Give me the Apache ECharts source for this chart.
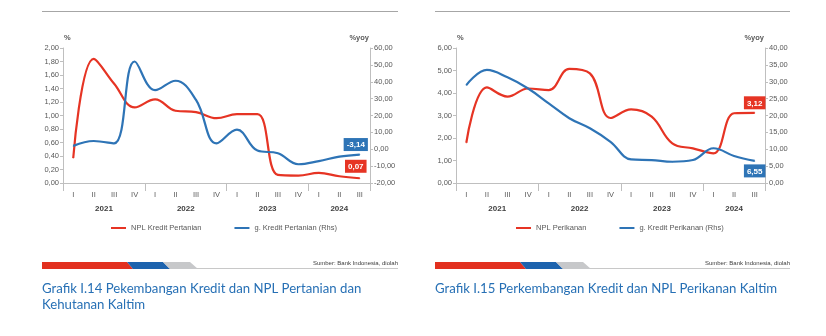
<!DOCTYPE html>
<html><head><meta charset="utf-8">
<script src="https://cdn.jsdelivr.net/npm/echarts@6/dist/echarts.min.js"></script>
<style>html,body{margin:0;padding:0;background:#fff}#c{width:826px;height:336px}</style>
</head><body><div id="c"></div>
<script>
// ---- data ----
const quarters = ['I','II','III','IV','I','II','III','IV','I','II','III','IV','I','II','III'];
const years = ['2021','2022','2023','2024'];
const quartersPerYear = [4, 4, 4, 3];

const nplPertanian    = [0.37, 1.84, 1.47, 1.12, 1.24, 1.07, 1.05, 0.96, 1.02, 1.02, 0.12, 0.11, 0.15, 0.10, 0.07];
const kreditPertanian = [2.0, 4.9, 3.5, 52.0, 35.0, 40.6, 29.2, 3.5, 11.6, -0.8, -2.4, -8.9, -7.0, -4.4, -3.14];
const nplPerikanan    = [1.79, 4.25, 3.84, 4.20, 4.13, 5.07, 4.87, 2.89, 3.27, 2.95, 1.76, 1.54, 1.32, 3.10, 3.12];
const kreditPerikanan = [29.0, 33.5, 31.3, 28.0, 23.6, 19.2, 16.2, 12.2, 7.0, 6.8, 6.3, 6.8, 10.3, 8.0, 6.55];

const leftTicksA  = {min: 0, max: 2, interval: 0.2};
const rightTicksA = {min: -20, max: 60, interval: 10};
const leftTicksB  = {min: 0, max: 6, interval: 1};
const rightTicksB = {min: 0, max: 40, interval: 5};

// ---- helpers ----
const RED = '#e63424', BLUE = '#2e74b6', AX = '#bfbfbf', TXT = '#595959';
const FONT = 'Liberation Sans';
const fmt = v => Number(v).toFixed(2).replace('.', ',');

const yearCentreMap = {};
(function(){ let s = 0; quartersPerYear.forEach((n, i) => { yearCentreMap[s + n / 2] = years[i]; s += n; }); })();
const nQ = quarters.length;

function xAxes(g) {
  return [
    {type: 'category', gridIndex: g, position: 'bottom', data: quarters, boundaryGap: true,
     axisLine: {onZero: false, lineStyle: {color: AX}}, axisTick: {length: 3, lineStyle: {color: AX}},
     axisLabel: {fontSize: 7.5, color: TXT, margin: 8, interval: 0, fontFamily: FONT}},
    {type: 'value', gridIndex: g, position: 'bottom', min: 0, max: nQ, interval: quartersPerYear[0],
     axisLine: {show: false, onZero: false}, axisTick: {show: true, length: 8, lineStyle: {color: AX}},
     axisLabel: {show: false}, splitLine: {show: false}},
    {type: 'value', gridIndex: g, position: 'bottom', min: 0, max: nQ, interval: 0.5,
     axisLine: {show: false, onZero: false}, axisTick: {show: false}, splitLine: {show: false},
     axisLabel: {margin: 22, fontSize: 8, fontWeight: 'bold', color: '#404040', fontFamily: FONT,
                 formatter: v => yearCentreMap[v] || ''}}
  ];
}
function yAxis(g, ticks, pos) {
  return {type: 'value', gridIndex: g, position: pos, min: ticks.min, max: ticks.max, interval: ticks.interval,
    axisLine: {show: true, onZero: false, lineStyle: {color: AX}}, axisTick: {show: true, length: 3, lineStyle: {color: AX}},
    axisLabel: {fontSize: 7.5, color: TXT, margin: 4, formatter: fmt, fontFamily: FONT},
    splitLine: {show: false}};
}
function lineSeries(name, arr, color, xi, yi, labelPos, offset) {
  return {name: name, type: 'line', xAxisIndex: xi, yAxisIndex: yi, smooth: 0.4,
    symbol: 'circle', symbolSize: 1, showSymbol: true, showAllSymbol: true,
    lineStyle: {width: 2.2, color: color}, itemStyle: {color: color},
    data: arr.map((v, i) => i === arr.length - 1 ? {value: v, label: {show: true, position: labelPos, distance: 3, offset: offset,
      backgroundColor: color, color: '#fff', fontSize: 8, fontWeight: 'bold', fontFamily: FONT, padding: [3, 3, 2, 3],
      formatter: p => fmt(p.value)}} : v)};
}
function deco(x0, x1, axL, axR) {
  const y0 = 262, y1 = 269;
  const nameStyle = {fontSize: 7.5, fill: TXT, fontWeight: 'bold', fontFamily: FONT, verticalAlign: 'middle'};
  return [
    {type: 'line', shape: {x1: x0, y1: 11.5, x2: x1, y2: 11.5}, style: {stroke: '#a6a6a6', lineWidth: 1}},
    {type: 'line', shape: {x1: x0, y1: y1 - 0.5, x2: x1, y2: y1 - 0.5}, style: {stroke: '#c8c8c8', lineWidth: 1}},
    {type: 'polygon', shape: {points: [[x0, y0], [x0 + 85, y0], [x0 + 91, y1], [x0, y1]]}, style: {fill: '#e2301f'}},
    {type: 'polygon', shape: {points: [[x0 + 85, y0], [x0 + 121, y0], [x0 + 128, y1], [x0 + 91, y1]]}, style: {fill: '#1d63ae'}},
    {type: 'polygon', shape: {points: [[x0 + 121, y0], [x0 + 148, y0], [x0 + 156, y1], [x0 + 128, y1]]}, style: {fill: '#c7c8ca'}},
    {type: 'text', style: {text: 'Sumber: Bank Indonesia, diolah', x: x1, y: 263, align: 'right', verticalAlign: 'middle',
      fontSize: 6, fill: '#404040', fontFamily: FONT}},
    {type: 'text', style: Object.assign({text: '%', x: axL + 1, y: 38, align: 'left'}, nameStyle)},
    {type: 'text', style: Object.assign({text: '%yoy', x: axR - 1, y: 38, align: 'right'}, nameStyle)}
  ];
}

const chart = echarts.init(document.getElementById('c'), null, {renderer: 'canvas'});
chart.setOption({
  animation: false,
  textStyle: {fontFamily: FONT},
  title: [
    {text: 'Grafik I.14 Pekembangan Kredit dan NPL Pertanian dan\nKehutanan Kaltim', left: 42, top: 281, padding: 0,
     textStyle: {fontSize: 13.2, fontWeight: 'normal', color: '#2770b5', lineHeight: 16, fontFamily: 'Lato'}},
    {text: 'Grafik I.15 Perkembangan Kredit dan NPL Perikanan Kaltim', left: 435, top: 281, padding: 0,
     textStyle: {fontSize: 13.2, fontWeight: 'normal', color: '#2770b5', lineHeight: 16, fontFamily: 'Lato'}}
  ],
  legend: [
    {left: 106, top: 219, itemWidth: 15, itemHeight: 2, itemGap: 33, icon: 'rect',
     textStyle: {fontSize: 7.5, color: TXT, fontFamily: FONT}, data: ['NPL Kredit Pertanian', 'g. Kredit Pertanian (Rhs)']},
    {left: 511, top: 219, itemWidth: 15, itemHeight: 2, itemGap: 33, icon: 'rect',
     textStyle: {fontSize: 7.5, color: TXT, fontFamily: FONT}, data: ['NPL Perikanan', 'g. Kredit Perikanan (Rhs)']}
  ],
  grid: [
    {left: 63, top: 48, width: 307, height: 135},
    {left: 456, top: 48, width: 309, height: 135}
  ],
  xAxis: xAxes(0).concat(xAxes(1)),
  yAxis: [
    yAxis(0, leftTicksA, 'left'), yAxis(0, rightTicksA, 'right'),
    yAxis(1, leftTicksB, 'left'), yAxis(1, rightTicksB, 'right')
  ],
  series: [
    lineSeries('NPL Kredit Pertanian', nplPertanian, RED, 0, 0, 'top', [-4, -2]),
    lineSeries('g. Kredit Pertanian (Rhs)', kreditPertanian, BLUE, 0, 1, 'top', [-4, 0]),
    lineSeries('NPL Perikanan', nplPerikanan, RED, 3, 2, 'top', [0, 0]),
    lineSeries('g. Kredit Perikanan (Rhs)', kreditPerikanan, BLUE, 3, 3, 'bottom', [0, 0])
  ],
  graphic: deco(42, 398, 63, 370).concat(deco(435, 790, 456, 765))
});
</script></body></html>
